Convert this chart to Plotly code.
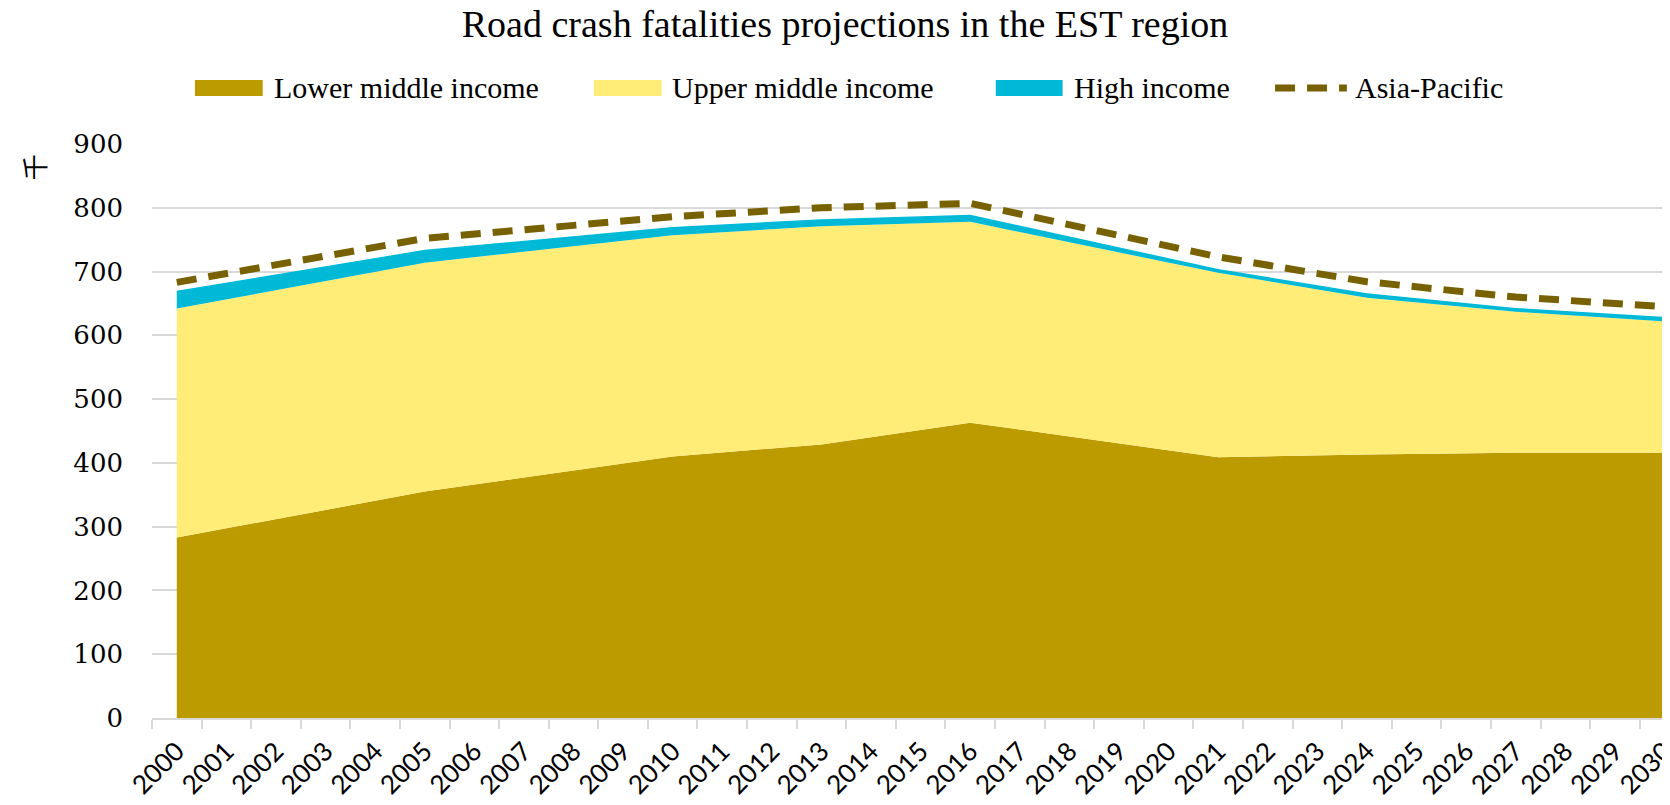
import plotly.graph_objects as go

# ---- data (thousands of fatalities) ----
years = [2000, 2005, 2010, 2013, 2016, 2021, 2024, 2027, 2030]
lower_middle = [283, 355, 410, 429, 463, 409, 413, 416, 416]
upper_middle = [359, 359, 347, 342, 315, 289, 246, 221, 206]
high_income = [28, 20, 13, 11, 11, 6, 7, 6, 7]
asia_pacific = [683, 752, 786, 800, 807, 723, 684, 660, 645]
tick_years = list(range(2000, 2031))
tick_labels = [str(y) for y in tick_years]
y_ticks = list(range(0, 1000, 100))

series_names = ["Lower middle income", "Upper middle income", "High income", "Asia-Pacific"]
colors = ["#BC9B00", "#FFED78", "#00B9D6", "#776100"]

# ---- layout geometry (figure pixels; page adds an 8px body margin) ----
OFF = 8
W, H = 1670, 805
L, T = 152 - OFF, 144 - OFF
B = H - (718 - OFF)
R = 0
PW, PH = W - L - R, H - T - B
YEAR_PX = 49.72


def fx(screen_px):
    return (screen_px - OFF - L) / PW


def fy(screen_py):
    return (T + PH - (screen_py - OFF)) / PH


fig = go.Figure()
for name, vals, col in zip(series_names[:3], [lower_middle, upper_middle, high_income], colors[:3]):
    fig.add_trace(go.Scatter(
        x=years, y=vals, name=name, stackgroup="one", mode="lines",
        line=dict(width=0, color=col), fillcolor=col, showlegend=False,
    ))
fig.add_trace(go.Scatter(
    x=years, y=asia_pacific, name=series_names[3], mode="lines",
    line=dict(color=colors[3], width=7, dash="20px,12px"), showlegend=False,
))

# ---- custom legend ----
shapes = []
annotations = []
leg_y = 88
swatch_x = [(195, 263), (595, 663), (998, 1065)]
text_x = [272, 671, 1074, 1356]
for (x0, x1), col in zip(swatch_x, colors[:3]):
    shapes.append(dict(type="rect", xref="paper", yref="paper",
                       x0=fx(x0), x1=fx(x1), y0=fy(leg_y + 8), y1=fy(leg_y - 8),
                       fillcolor=col, line=dict(width=0)))
shapes.append(dict(type="line", xref="paper", yref="paper",
                   x0=fx(1278), x1=fx(1350), y0=fy(leg_y), y1=fy(leg_y),
                   line=dict(color=colors[3], width=7, dash="20px,12px")))
for tx, name in zip(text_x, series_names):
    annotations.append(dict(text=name, xref="paper", yref="paper", x=fx(tx), y=fy(leg_y),
                            xanchor="left", yanchor="middle", showarrow=False,
                            font=dict(family="Liberation Serif", size=30, color="#000000")))
# unit label
annotations.append(dict(text="千", xref="paper", yref="paper", x=fx(33), y=fy(167),
                        xanchor="center", yanchor="middle", showarrow=False, textangle=-90,
                        font=dict(family="Noto Sans CJK SC", size=26, color="#000000")))

fig.update_layout(
    width=W, height=H,
    margin=dict(l=L, r=R, t=T, b=B, pad=0),
    paper_bgcolor="white", plot_bgcolor="white",
    title=dict(text="Road crash fatalities projections in the EST region",
               x=(845 - OFF) / W, xref="container", xanchor="center",
               y=1 - 2 / H, yref="container", yanchor="top", pad=dict(t=0, b=0, l=0, r=0),
               font=dict(family="Liberation Serif", size=38, color="#000000")),
    shapes=shapes, annotations=annotations,
    showlegend=False,
)
fig.update_xaxes(
    type="linear", range=[1999.5, 1999.5 + PW / YEAR_PX],
    tickmode="array", tickvals=tick_years, ticktext=tick_labels,
    ticks="", tickangle=-45, showgrid=False, zeroline=False,
    showline=True, linecolor="#D9D9D9", linewidth=1.5,
    ticklabelstandoff=6, ticklabeloverflow="allow",
    tickfont=dict(family="Lato", size=26, color="#000000"),
    minor=dict(tickmode="array", tickvals=[y - 0.5 for y in tick_years],
               ticks="outside", ticklen=9, tickwidth=1.5, tickcolor="#D9D9D9", showgrid=False),
)
fig.update_yaxes(
    range=[0, 900], tickmode="array", tickvals=y_ticks,
    showgrid=True, gridcolor="#D9D9D9", gridwidth=1.5, zeroline=False,
    showline=False, ticks="", ticklabelstandoff=28,
    tickfont=dict(family="DejaVu Serif", size=26, color="#000000"),
)

fig.write_html("out.html")
